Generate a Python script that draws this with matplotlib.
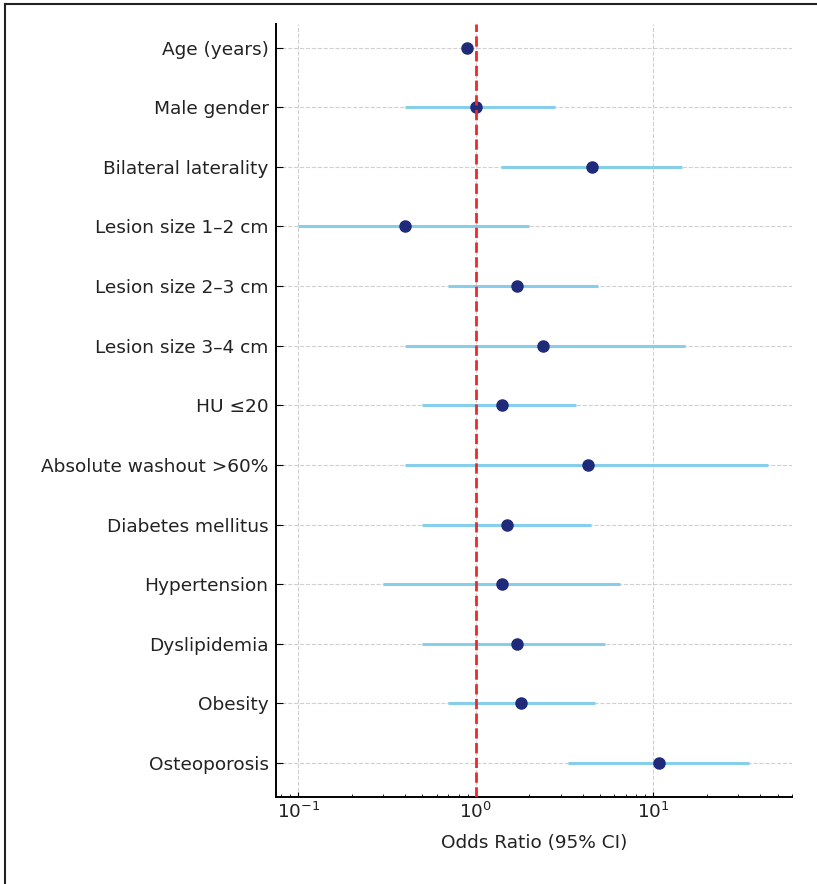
import numpy as np
import matplotlib.pyplot as plt
from matplotlib.lines import Line2D

# Data
variables = ["Age (years)", "Male gender", "Bilateral laterality",
             "Lesion size 1\u20132 cm", "Lesion size 2\u20133 cm", "Lesion size 3\u20134 cm",
             "HU \u226420", "Absolute washout >60%", "Diabetes mellitus",
             "Hypertension", "Dyslipidemia", "Obesity", "Osteoporosis"]
odds_ratio = [0.89, 1.0, 4.5, 0.4, 1.7, 2.4, 1.4, 4.3, 1.5, 1.4, 1.7, 1.8, 10.8]
ci_low = [0.86, 0.4, 1.38, 0.1, 0.7, 0.4, 0.5, 0.4, 0.5, 0.3, 0.5, 0.7, 3.3]
ci_high = [0.92, 2.78, 14.4, 2.0, 4.85, 15.1, 3.65, 44.0, 4.45, 6.5, 5.3, 4.7, 34.5]

text_col = "#222222"
fig = plt.figure(figsize=(8.17, 8.84), dpi=100)
ax = fig.add_axes([0.338, 0.0984, 0.631, 0.874])

y = np.arange(len(variables))[::-1]

ax.hlines(y, ci_low, ci_high, color="#87CEEB", lw=2.2, zorder=2)
ax.plot(odds_ratio, y, "o", color="#1f2a7a", markersize=8, zorder=3)
ax.axvline(1, color="#f02828", linestyle="--", lw=2, zorder=4)

ax.set_xscale("log")
ax.set_xlim(0.075, 60)
ax.set_ylim(-0.57, 12.39)
ax.set_yticks(y)
ax.set_yticklabels(variables, fontsize=13.3, color=text_col)
ax.set_xlabel("Odds Ratio (95% CI)", fontsize=13.3, labelpad=9, color=text_col)

ax.tick_params(axis="x", which="both", direction="in", labelsize=13.3, labelcolor=text_col)
ax.tick_params(axis="y", direction="in", length=5, pad=5.5)
ax.grid(True, which="major", linestyle="--", color="#d0d0d0", lw=0.8)
ax.set_axisbelow(True)
for side in ["top", "right"]:
    ax.spines[side].set_visible(False)
ax.spines["left"].set_linewidth(1.4)
ax.spines["bottom"].set_linewidth(1.4)

# scan border on top and left
fig.add_artist(Line2D([0.006, 1.0], [0.995, 0.995], color="#222222", lw=1.5))
fig.add_artist(Line2D([0.006, 0.006], [0.0, 0.995], color="#222222", lw=1.5))

fig.savefig("out.png", dpi=100)
